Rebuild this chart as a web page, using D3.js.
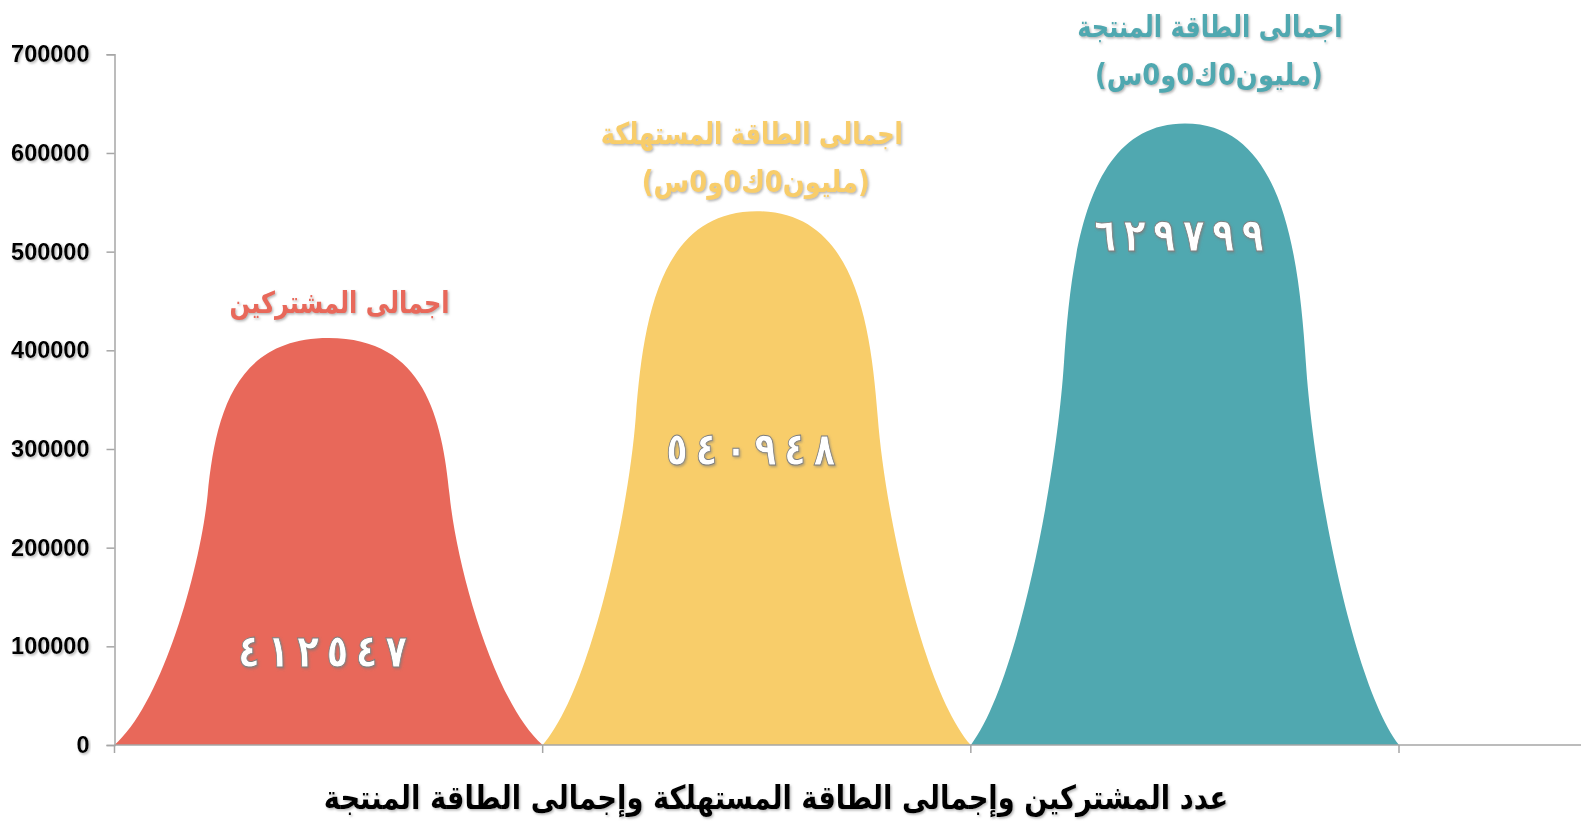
<!DOCTYPE html>
<html>
<head>
<meta charset="utf-8">
<script src="https://cdn.jsdelivr.net/npm/d3@7"></script>
<style>
  body { margin: 0; background: #fff; }
  svg { display: block; }
</style>
</head>
<body>
<svg id="chart"></svg>
<script>
let w = 1581;
let h = 821;

// chart data
const categories = ['اجمالى المشتركين', 'اجمالى الطاقة المستهلكة', 'اجمالى الطاقة المنتجة'];
const unitLabels = ['', '(مليون0ك0و0س)', '(مليون0ك0و0س)'];
const values = [412547, 540948, 629799];
const yTicks = [0, 100000, 200000, 300000, 400000, 500000, 600000, 700000];
const axisTitle = 'عدد المشتركين وإجمالى الطاقة المستهلكة وإجمالى الطاقة المنتجة';

// look
const colors = ['#E8685A', '#F8CD6A', '#50A8B0'];
const labelAt = [95000, 300000, 517000];   // where the value text sits (in y units)
const titleDx = [11, -5, 25];
const unitDx = [0, -1, 24];
const titleGap = [35, 30, 49];             // px between peak top and lowest title line

const arabicDigits = '٠١٢٣٤٥٦٧٨٩';
let toArabic = (n) => String(n).replace(/\d/g, (c) => arabicDigits[+c]);

let svg = d3.select('#chart').attr('width', w).attr('height', h);

// soft shadow used on the texts
let defs = svg.append('defs');
defs.append('filter').attr('id', 'shadow')
    .attr('x', '-10%').attr('y', '-30%').attr('width', '120%').attr('height', '160%')
  .append('feDropShadow')
    .attr('dx', 1.5).attr('dy', 1.5).attr('stdDeviation', 1.2)
    .attr('flood-color', '#777').attr('flood-opacity', 0.55);

let x = d3.scaleLinear().domain([0, 3]).range([114.5, 1399]);
let y = d3.scaleLinear().domain([0, 700000]).range([745, 54.3]);

//peak shape: two cubic pieces per side in unit coords (across, up), mirrored for the right side
function peakPath(i, v) {
    let x0 = x(i), x1 = x(i + 1);
    let half = (x1 - x0) / 2;
    let base = y(0), ht = y(0) - y(v);
    let P = (t, u) => [x0 + t * half, base - u * ht];
    let Q = (t, u) => [x1 - t * half, base - u * ht];
    let p = d3.path();
    p.moveTo(...P(0, 0));
    p.bezierCurveTo(...P(0.22, 0.1), ...P(0.4, 0.43), ...P(0.435, 0.615));
    p.bezierCurveTo(...P(0.47, 0.8), ...P(0.55, 1), ...P(1, 1));
    p.bezierCurveTo(...Q(0.55, 1), ...Q(0.47, 0.8), ...Q(0.435, 0.615));
    p.bezierCurveTo(...Q(0.4, 0.43), ...Q(0.22, 0.1), ...Q(0, 0));
    p.closePath();
    return p.toString();
}

svg.append('g').selectAll('path')
    .data(values)
    .enter()
    .append('path')
        .attr('d', (d, i) => peakPath(i, d))
        .attr('fill', (d, i) => colors[i]);

//axes
let yAxis = svg.append('g')
    .attr('transform', `translate(${x(0)},0)`)
    .call(d3.axisLeft(y).tickValues(yTicks).tickFormat(d3.format('d')).tickSizeOuter(0).tickSize(8).tickPadding(17));
yAxis.select('.domain').attr('stroke', '#a6a6a6').attr('stroke-width', 1.5);
yAxis.selectAll('.tick line').attr('stroke', '#a6a6a6').attr('stroke-width', 1.5);
yAxis.selectAll('.tick text')
    .attr('font-family', 'Liberation Sans, Arial, sans-serif')
    .attr('font-weight', 'bold')
    .attr('font-size', 23.5)
    .attr('fill', '#000')
    .attr('filter', 'url(#shadow)');

let xAxis = svg.append('g')
    .attr('transform', `translate(0,${y(0)})`);
xAxis.append('line')
    .attr('x1', x(0)).attr('x2', w)
    .attr('stroke', '#a6a6a6').attr('stroke-width', 1.5);
xAxis.selectAll('line.tick')
    .data(d3.range(0, categories.length + 1))
    .enter()
    .append('line')
        .attr('class', 'tick')
        .attr('x1', (d) => x(d)).attr('x2', (d) => x(d))
        .attr('y1', 0).attr('y2', 8)
        .attr('stroke', '#a6a6a6').attr('stroke-width', 1.5);

//texts placed at a centre and squeezed sideways
function placed(sel, k) {
    sel.attr('text-anchor', 'middle')
        .attr('dy', '0.35em')
        .attr('font-family', 'DejaVu Sans, sans-serif')
        .attr('font-weight', 'bold')
        .attr('filter', 'url(#shadow)')
        .attr('transform', function() {
            let cx = +this.getAttribute('data-x'), cy = +this.getAttribute('data-y');
            return `translate(${cx},${cy}) scale(${k},1)`;
        });
}

//value texts inside the peaks, one tspan per digit so they spread out
let pitch = 29.5, squeeze = 0.78;
let valueText = svg.append('g').selectAll('text')
    .data(values)
    .enter()
    .append('text')
        .attr('data-x', (d, i) => (x(i) + x(i + 1)) / 2 - 6)
        .attr('data-y', (d, i) => y(labelAt[i]))
        .attr('direction', 'ltr')
        .attr('font-size', 46)
        .attr('fill', '#fff')
        .attr('stroke', '#7d7d7d')
        .attr('stroke-width', 1)
        .call(placed, squeeze);
valueText.selectAll('tspan')
    .data((d) => toArabic(d).split(''))
    .enter()
    .append('tspan')
        .attr('x', (c, j, all) => (j - (all.length - 1) / 2) * pitch / squeeze)
        .text((c) => c);

//category titles above the peaks
svg.append('g').selectAll('text')
    .data(categories)
    .enter()
    .append('text')
        .attr('data-x', (d, i) => (x(i) + x(i + 1)) / 2 + titleDx[i])
        .attr('data-y', (d, i) => y(values[i]) - titleGap[i] - (unitLabels[i] ? 48 : 0))
        .attr('direction', 'rtl')
        .attr('font-size', 30)
        .attr('fill', (d, i) => colors[i])
        .text((d) => d)
        .call(placed, 0.8);

svg.append('g').selectAll('text')
    .data(unitLabels)
    .enter()
    .append('text')
        .attr('data-x', (d, i) => (x(i) + x(i + 1)) / 2 + unitDx[i])
        .attr('data-y', (d, i) => y(values[i]) - titleGap[i])
        .attr('direction', 'rtl')
        .attr('font-size', 30)
        .attr('fill', (d, i) => colors[i])
        .text((d) => d)
        .call(placed, 0.86);

//axis title
svg.append('text')
    .attr('data-x', 776)
    .attr('data-y', 797)
    .attr('direction', 'rtl')
    .attr('font-size', 33)
    .attr('fill', '#000')
    .text(axisTitle)
    .call(placed, 0.83);
</script>
</body>
</html>
